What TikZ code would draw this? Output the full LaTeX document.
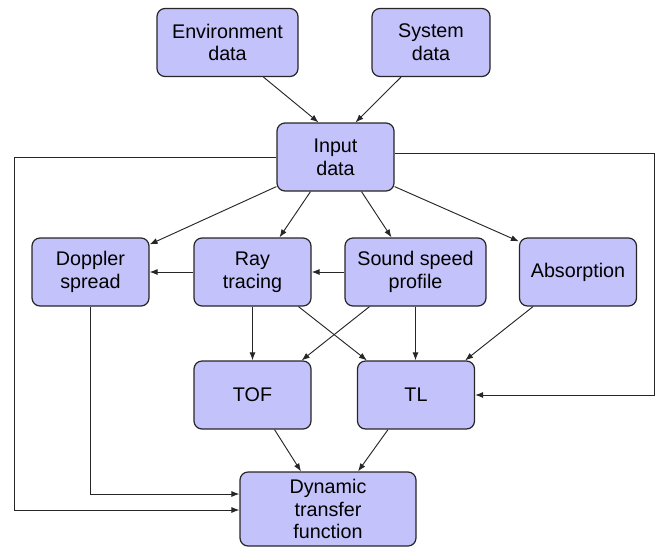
\documentclass[tikz,border=0pt]{standalone}
\usepackage{fontspec}
\setmainfont{Liberation Sans}
\usepackage{tikz}
\usetikzlibrary{arrows.meta,calc}
\definecolor{boxfill}{RGB}{196,194,250}

\begin{document}
\begin{tikzpicture}[
  x=0.75pt, y=-0.75pt,
  blk/.style={draw=black!85, fill=boxfill, rounded corners=6pt, line width=0.9pt,
              align=center, font=\fontsize{14.8}{17}\selectfont, inner sep=0pt,
              minimum width=87.75pt, minimum height=51pt},
  arr/.style={-{Latex[length=6pt,width=4.5pt]}, black!85, line width=0.7pt}
]
\useasboundingbox (0,0) rectangle (656,547);
\node[blk, minimum width=105.75pt] (env) at (227.5,42.5) {Environment\\data};
\node[blk, minimum width=88.5pt] (sys) at (431,42.5) {System\\data};
\node[blk] (inp) at (335.5,157) {Input\\data};
\node[blk] (dop) at (90.5,272) {Doppler\\spread};
\node[blk] (ray) at (252.5,272) {Ray\\tracing};
\node[blk, minimum width=105.75pt] (ssp) at (415.5,272) {Sound speed\\profile};
\node[blk] (abs) at (578,272) {Absorption};
\node[blk] (tof) at (252.5,395) {TOF};
\node[blk] (tl) at (416,395) {TL};
\node[blk, minimum width=132pt, minimum height=55.5pt] (dyn) at (328,509) {Dynamic\\transfer\\function};
% inputs
\draw[arr] ($(env.south)+(36,0)$) -- ($(inp.north)+(-17,0)$);
\draw[arr] ($(sys.south)+(-30,0)$) -- ($(inp.north)+(20,0)$);
\draw[arr] ($(inp.south west)+(0,-5)$) -- ($(dop.north east)+(0,7)$);
\draw[arr] ($(inp.south)+(-25,0)$) -- ($(ray.north)+(27,0)$);
\draw[arr] ($(inp.south)+(26,0)$) -- ($(ssp.north)+(-24,0)$);
\draw[arr] ($(inp.south east)+(0,-5)$) -- ($(abs.north west)+(0,4)$);
\draw[arr] (ray.west) -- (dop.east);
\draw[arr] (ssp.west) -- (ray.east);
% TOF and TL
\draw[arr] (ray.south) -- (tof.north);
\draw[arr] ($(ray.south)+(46,0)$) -- ($(tl.north west)+(10,0)$);
\draw[arr] ($(ssp.south)+(-46,0)$) -- ($(tof.north east)+(-10,0)$);
\draw[arr] (ssp.south) -- (ssp.south |- tl.north);
\draw[arr] ($(abs.south)+(-45,0)$) -- ($(tl.north east)+(-10,0)$);
\draw[arr] ($(tof.south)+(22,0)$) -- ($(dyn.north)+(-27,0)$);
\draw[arr] ($(tl.south)+(-28,0)$) -- ($(dyn.north)+(30,0)$);
% loops
\draw[arr] (dop.south) |- ($(dyn.west)+(0,-15)$);
\draw[arr] (inp.west) -- ++(-262,0) |- ($(dyn.west)+(0,1)$);
\draw[arr] ($(inp.east)+(0,-4)$) -- ++(260,0) |- (tl.east);
\end{tikzpicture}
\end{document}
